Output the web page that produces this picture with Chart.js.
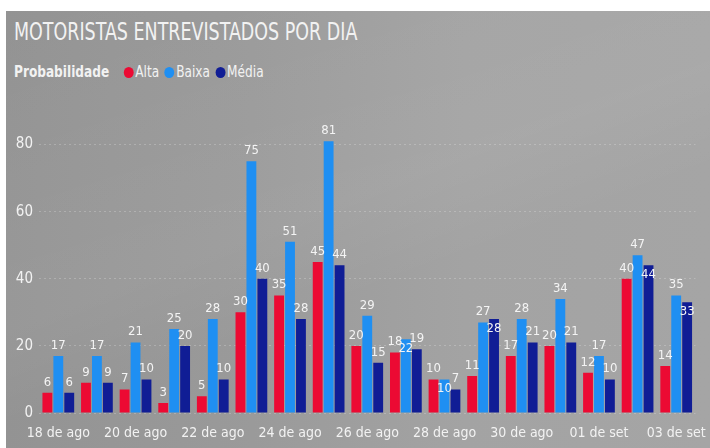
<!DOCTYPE html>
<html>
<head>
<meta charset="utf-8">
<script src="https://cdn.jsdelivr.net/npm/chart.js@4"></script>
<style>
    body { margin: 0; background: #fff; width: 710px; height: 448px; overflow: hidden; }
    #panel {
        position: absolute; left: 6px; top: 11px; width: 704px; height: 437px;
        background:
            linear-gradient(160deg, rgba(255,255,255,0) 0%, rgba(255,255,255,0.05) 45%, rgba(255,255,255,0) 60%),
            linear-gradient(90deg, #939393 0%, #9a9a9a 35%, #a3a3a3 65%, #a5a5a5 100%);
    }
    #title {
        position: absolute; left: 8px; top: 7px; color: #f2f2f2; white-space: nowrap;
        font: 24px 'Liberation Sans Narrow', 'DejaVu Sans Condensed', sans-serif;
        transform: scaleX(0.81); transform-origin: left center;
    }
    #legend {
        position: absolute; left: 8px; top: 52px; color: #f2f2f2; white-space: nowrap;
        font: 15px 'Liberation Sans Narrow', 'DejaVu Sans Condensed', sans-serif;
        display: flex; align-items: center;
        transform: scaleX(0.9); transform-origin: left center;
    }
    #legend b { margin-right: 10px; }
    #legend span.dot { width: 11px; height: 11px; border-radius: 50%; display: inline-block; margin: 0 2px 0 6px; }
    #chartWrap { position: absolute; left: 0; top: 0; width: 710px; height: 448px; }
</style>
</head>
<body>
<div id="panel">
    <div id="title">MOTORISTAS ENTREVISTADOS POR DIA</div>
    <div id="legend"></div>
</div>
<div id="chartWrap"><canvas id="motoristasChart"></canvas></div>
<script>
const dias = ['18 de ago', '19 de ago', '20 de ago', '21 de ago', '22 de ago', '23 de ago', '24 de ago',
    '25 de ago', '26 de ago', '27 de ago', '28 de ago', '29 de ago', '30 de ago', '31 de ago',
    '01 de set', '02 de set', '03 de set'];
const alta  = [6, 9, 7, 3, 5, 30, 35, 45, 20, 18, 10, 11, 17, 20, 12, 40, 14];
const baixa = [17, 17, 21, 25, 28, 75, 51, 81, 29, 22, 10, 27, 28, 34, 17, 47, 35];
const media = [6, 9, 10, 20, 10, 40, 28, 44, 15, 19, 7, 28, 21, 21, 10, 44, 33];
const yTicks = [0, 20, 40, 60, 80];

const cores = { alta: '#ec0a33', baixa: '#1f8ff2', media: '#101d95' };
// labels Power BI drew inside the bar end instead of above it: [dataset, index]
const labelsDentro = [[1, 9], [1, 10], [2, 11], [2, 15], [2, 16]];

const FONT = "'Liberation Sans Narrow', 'DejaVu Sans Condensed', sans-serif";

document.getElementById('legend').innerHTML =
    '<b>Probabilidade</b>' +
    `<span class="dot" style="background:${cores.alta}"></span>Alta` +
    `<span class="dot" style="background:${cores.baixa}"></span>Baixa` +
    `<span class="dot" style="background:${cores.media}"></span>Média`;

const rotulosPlugin = {
    id: 'rotulos',
    afterDatasetsDraw(chart) {
        const ctx = chart.ctx;
        ctx.save();
        ctx.font = `13px ${FONT}`;
        ctx.fillStyle = '#f4f4f4';
        ctx.textAlign = 'center';
        chart.data.datasets.forEach((ds, di) => {
            chart.getDatasetMeta(di).data.forEach((bar, i) => {
                const dentro = labelsDentro.some(p => p[0] === di && p[1] === i);
                ctx.textBaseline = dentro ? 'top' : 'bottom';
                ctx.fillText(ds.data[i], bar.x, dentro ? bar.y + 3 : bar.y - 4);
            });
        });
        ctx.restore();
    }
};

new Chart(document.getElementById('motoristasChart'), {
    type: 'bar',
    data: {
        labels: dias,
        datasets: [
            { label: 'Alta', data: alta, backgroundColor: cores.alta },
            { label: 'Baixa', data: baixa, backgroundColor: cores.baixa },
            { label: 'Média', data: media, backgroundColor: cores.media }
        ]
    },
    options: {
        responsive: true,
        maintainAspectRatio: false,
        animation: false,
        categoryPercentage: 0.85,
        barPercentage: 0.9,
        layout: { padding: { top: 111, right: 10, left: 0, bottom: 0 } },
        plugins: { legend: { display: false }, tooltip: { enabled: false } },
        scales: {
            x: {
                grid: { display: false },
                border: { display: false },
                afterFit: s => { s.height = 35; },
                ticks: {
                    autoSkip: false, maxRotation: 0, color: '#f2f2f2', padding: 4,
                    font: { family: FONT, size: 14 },
                    callback: (v, i) => i % 2 === 0 ? dias[i] : ''
                }
            },
            y: {
                min: 0, max: 90,
                afterBuildTicks: s => { s.ticks = yTicks.map(v => ({ value: v })); },
                afterFit: s => { s.width = 39; },
                border: { display: false, dash: [2, 3] },
                grid: { color: 'rgba(255,255,255,0.22)', drawTicks: false, lineWidth: 1 },
                ticks: {
                    color: '#f2f2f2', padding: 6, align: 'center',
                    font: { family: FONT, size: 15 }
                }
            }
        }
    },
    plugins: [rotulosPlugin]
});
</script>
</body>
</html>
